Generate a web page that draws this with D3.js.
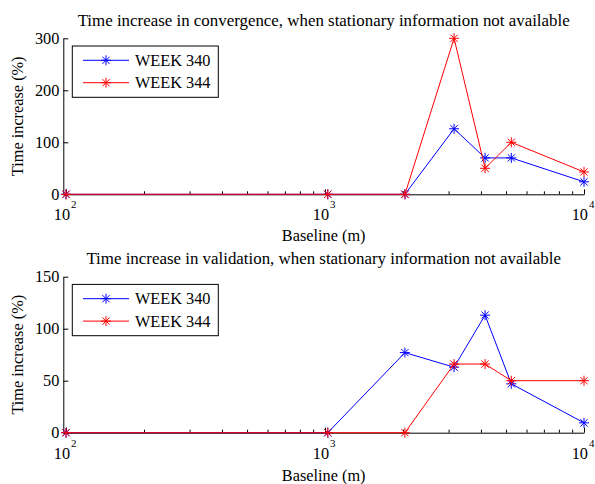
<!DOCTYPE html>
<html>
<head>
<meta charset="utf-8">
<script src="https://cdn.jsdelivr.net/npm/d3@7"></script>
<style>
  html, body { margin: 0; padding: 0; background: #fff; }
  svg { display: block; }
  text { font-family: "Liberation Serif", "Times New Roman", serif; fill: #000; }
</style>
</head>
<body>
<svg id="chart" width="595" height="484"></svg>
<script>
// Baselines (m) at which the timing was measured
const baselines = [100, 1025, 2035, 3150, 4150, 5240, 10000];

// Convergence time increase (%)
const convWeek340 = [0, 0, 0, 126, 70, 70, 24];
const convWeek344 = [0, 0, 0, 300, 50, 100, 43];

// Validation time increase (%)
const valWeek340 = [0, 0, 77, 63, 113, 47, 9.5];
const valWeek344 = [0, 0, 0, 66, 66, 50, 50];

const seriesNames = ["WEEK 340", "WEEK 344"];
const seriesColors = ["#0000ff", "#ff0000"];

const convTicks = [0, 100, 200, 300];
const valTicks = [0, 50, 100, 150];
const decadeTicks = [100, 1000, 10000];
const minorTicks = [200, 300, 400, 500, 600, 700, 800, 900,
                    2000, 3000, 4000, 5000, 6000, 7000, 8000, 9000];

const panels = [
  {
    title: "Time increase in convergence, when stationary information not available",
    series: [convWeek340, convWeek344],
    yMax: 300, yTicks: convTicks,
    top: 38.3, bottom: 194.3, titleY: 26, xLabelY: 241
  },
  {
    title: "Time increase in validation, when stationary information not available",
    series: [valWeek340, valWeek344],
    yMax: 150, yTicks: valTicks,
    top: 276.7, bottom: 432.7, titleY: 264, xLabelY: 481
  }
];

const svg = d3.select("#chart");
svg.append("rect").attr("width", 595).attr("height", 484).attr("fill", "#fff");

const left = 63.3, right = 584;
const x = d3.scaleLog().domain([97.6, 10000]).range([left, right]);

// asterisk marker: plus and cross overlaid
const star = "M-5,0H5M0,-5V5M-3.6,-3.6L3.6,3.6M-3.6,3.6L3.6,-3.6";

panels.forEach(p => {
  const y = d3.scaleLinear().domain([0, p.yMax]).range([p.bottom, p.top]);
  const g = svg.append("g");

  // title
  g.append("text")
    .attr("x", (left + right) / 2).attr("y", p.titleY)
    .attr("text-anchor", "middle").attr("font-size", 16.9)
    .text(p.title);

  // minor x ticks
  const minorAxis = d3.axisBottom(x).tickValues(minorTicks)
    .tickSizeInner(-3).tickSizeOuter(0).tickFormat("");
  g.append("g").attr("transform", `translate(0,${p.bottom})`).call(minorAxis)
    .call(s => s.select(".domain").remove())
    .call(s => s.selectAll("line").attr("stroke", "#000"));

  // decade x ticks with 10^n labels
  const majorAxis = d3.axisBottom(x).tickValues(decadeTicks)
    .tickSizeInner(-5).tickSizeOuter(0).tickFormat("");
  const gx = g.append("g").attr("transform", `translate(0,${p.bottom})`).call(majorAxis);
  gx.select(".domain").attr("stroke", "#000");
  gx.selectAll("line").attr("stroke", "#000");
  gx.selectAll(".tick").each(function(d) {
    const t = d3.select(this);
    t.select("text").remove();
    t.append("text").attr("x", 3.5).attr("y", 26)
      .attr("text-anchor", "end").attr("font-size", 16.3).attr("fill", "#000")
      .text("10");
    t.append("text").attr("x", 4.5).attr("y", 14)
      .attr("text-anchor", "start").attr("font-size", 11).attr("fill", "#000")
      .text(String(Math.round(Math.log10(d))));
  });

  // y axis
  const yAxis = d3.axisLeft(y).tickValues(p.yTicks)
    .tickSizeInner(-5).tickSizeOuter(0).tickPadding(4);
  const gy = g.append("g").attr("transform", `translate(${left},0)`).call(yAxis);
  gy.select(".domain").attr("stroke", "#000");
  gy.selectAll("line").attr("stroke", "#000");
  gy.selectAll("text")
    .attr("font-family", "Liberation Serif, Times New Roman, serif")
    .attr("font-size", 16.3).attr("fill", "#000");

  // axis labels
  g.append("text")
    .attr("x", (left + right) / 2).attr("y", p.xLabelY)
    .attr("text-anchor", "middle").attr("font-size", 16.3)
    .text("Baseline (m)");
  g.append("text")
    .attr("transform", `translate(23,${(p.top + p.bottom) / 2}) rotate(-90)`)
    .attr("text-anchor", "middle").attr("font-size", 16.3)
    .text("Time increase (%)");

  // series
  const line = d3.line().x(d => x(d[0])).y(d => y(d[1]));
  p.series.forEach((vals, i) => {
    const pts = baselines.map((b, k) => [b, vals[k]]);
    g.append("path").datum(pts)
      .attr("d", line).attr("fill", "none")
      .attr("stroke", seriesColors[i]).attr("stroke-width", 1);
    g.selectAll(null).data(pts).enter().append("path")
      .attr("transform", d => `translate(${x(d[0])},${y(d[1])})`)
      .attr("d", star).attr("fill", "none")
      .attr("stroke", seriesColors[i]).attr("stroke-width", 1);
  });

  // legend
  const lx = 72.3, ly = p.top + 7.7, lw = 146, lh = 51.3;
  const lg = g.append("g");
  lg.append("rect").attr("x", lx).attr("y", ly).attr("width", lw).attr("height", lh)
    .attr("fill", "#fff").attr("stroke", "#000").attr("stroke-width", 1);
  seriesNames.forEach((name, i) => {
    const ry = ly + 14.3 + i * 22.4;
    lg.append("line").attr("x1", 83).attr("x2", 129).attr("y1", ry).attr("y2", ry)
      .attr("stroke", seriesColors[i]).attr("stroke-width", 1);
    lg.append("path").attr("transform", `translate(106,${ry})`)
      .attr("d", star).attr("fill", "none")
      .attr("stroke", seriesColors[i]).attr("stroke-width", 1);
    lg.append("text").attr("x", 135).attr("y", ry + 5.5)
      .attr("font-size", 16.3).text(name);
  });
});
</script>
</body>
</html>
